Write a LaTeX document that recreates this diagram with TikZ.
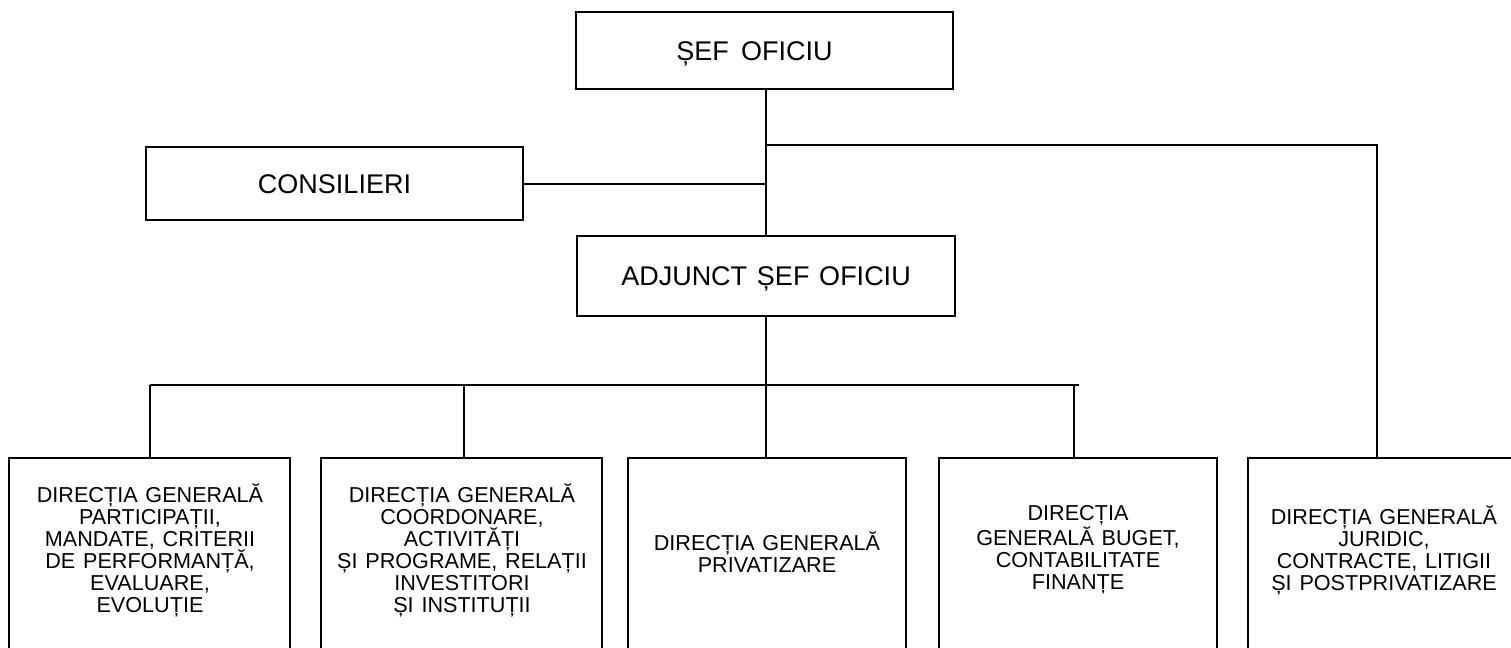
\documentclass[tikz,border=0pt]{standalone}
\usepackage{fontspec}
\setmainfont{Liberation Sans}[WordSpace=1.3]
\begin{document}
\begin{tikzpicture}[x=0.5pt,y=-0.5pt,
  box/.style={draw, line width=1pt, inner sep=0pt},
  big/.style={font=\fontsize{13.5}{16}\selectfont, text height=9.7pt, text depth=0pt},
  small/.style={font=\fontsize{10.8}{11}\selectfont, align=center, inner sep=0pt},
  link/.style={line width=1pt}]
\useasboundingbox (0,0) rectangle (1511,648);
\clip (0,0) rectangle (1511,648);

% upper boxes
\node[box, big, minimum width=188.5pt, minimum height=38.5pt] (sef) at (764.5,50.5) {ȘEF\hspace{0.45em}OFICIU\hspace*{10pt}};
\node[box, big, minimum width=188.5pt, minimum height=36.5pt] (cons) at (334.5,183.5) {CONSILIERI};
\node[box, big, minimum width=189pt, minimum height=40pt] (adj) at (766,276) {ADJUNCT ȘEF OFICIU};

% lower boxes (open at the bottom of the picture)
\node[box, anchor=north, minimum width=140.5pt, minimum height=150pt] (b1) at (149.5,457) {};
\node[box, anchor=north, minimum width=140.5pt, minimum height=150pt] (b2) at (461.5,457) {};
\node[box, anchor=north, minimum width=139pt, minimum height=150pt] (b3) at (767,457) {};
\node[box, anchor=north, minimum width=139pt, minimum height=150pt] (b4) at (1078,457) {};
\node[box, anchor=north, minimum width=140.5pt, minimum height=150pt] (b5) at (1388.5,457) {};

\node[small] (t1) at (150,550) {DIRECȚIA GENERALĂ\\PARTICIPAȚII,\\MANDATE, CRITERII\\DE PERFORMANȚĂ,\\EVALUARE,\\EVOLUȚIE};
\node[small] (t2) at (462,550) {DIRECȚIA GENERALĂ\\COORDONARE,\\ACTIVITĂȚI\\ȘI PROGRAME, RELAȚII\\INVESTITORI\\ȘI INSTITUȚII};
\node[small] (t3) at (767,552) {DIRECȚIA GENERALĂ\\PRIVATIZARE};
\node[small] (t4) at (1078,550) {DIRECȚIA\\GENERALĂ BUGET,\\CONTABILITATE\\FINANȚE};
\node[small] (t5) at (1384,550) {DIRECȚIA GENERALĂ\\JURIDIC,\\CONTRACTE, LITIGII\\ȘI POSTPRIVATIZARE};

% connectors
\coordinate (tr) at (1377,145);
\coordinate (busL) at (150,385);
\coordinate (busR) at (1079,385);
\coordinate (d2) at (464,385);
\coordinate (d4) at (1074,385);

\draw[link] (adj.north) -- (adj.north |- sef.south);
\draw[link] (adj.north |- tr) -- (tr) -- (tr |- b5.north);
\draw[link] (cons.east) -- (cons.east -| adj.north);
\draw[link] (adj.south) -- (adj.south |- b3.north);
\draw[link] (busL) -- (busR);
\draw[link] (busL) -- (busL |- b1.north);
\draw[link] (d2) -- (d2 |- b2.north);
\draw[link] (d4) -- (d4 |- b4.north);
\end{tikzpicture}
\end{document}
